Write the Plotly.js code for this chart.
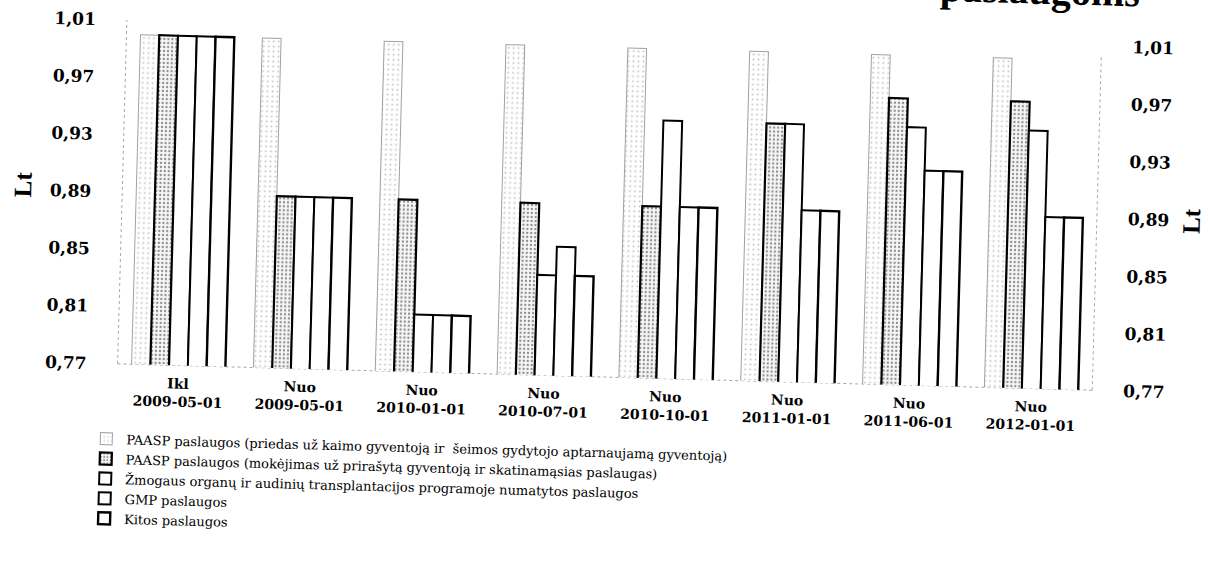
<!DOCTYPE html>
<html>
<head>
<meta charset="utf-8">
<script src="https://cdn.plot.ly/plotly-3.0.1.min.js"></script>
<style>
  html, body { margin: 0; padding: 0; background: #fff; overflow: hidden; }
  #wrap { width: 1208px; height: 562px; transform: rotate(1.55deg); transform-origin: 604px 281px; }
  #plot { width: 1208px; height: 562px; }
  #plot svg { overflow: visible !important; }
</style>
</head>
<body>
<div id="wrap"><div id="plot"></div></div>
<script>
// ---- data ----
const categories = [
  "Ikl<br>2009-05-01", "Nuo<br>2009-05-01", "Nuo<br>2010-01-01", "Nuo<br>2010-07-01",
  "Nuo<br>2010-10-01", "Nuo<br>2011-01-01", "Nuo<br>2011-06-01", "Nuo<br>2012-01-01"
];
const seriesNames = [
  "PAASP paslaugos (priedas už kaimo gyventoją ir  šeimos gydytojo aptarnaujamą gyventoją)",
  "PAASP paslaugos (mokėjimas už prirašytą gyventoją ir skatinamąsias paslaugas)",
  "Žmogaus organų ir audinių transplantacijos programoje numatytos paslaugos",
  "GMP paslaugos",
  "Kitos paslaugos"
];
const paaspPriedas    = [1.00, 1.00, 1.00, 1.00, 1.00, 1.00, 1.00, 1.00];
const paaspMokejimas  = [1.00, 0.89, 0.89, 0.89, 0.89, 0.95, 0.97, 0.97];
const transplantacija = [1.00, 0.89, 0.81, 0.84, 0.95, 0.95, 0.95, 0.95];
const gmp             = [1.00, 0.89, 0.81, 0.86, 0.89, 0.89, 0.92, 0.89];
const kitos           = [1.00, 0.89, 0.81, 0.84, 0.89, 0.89, 0.92, 0.89];
const yTickStart = 0.77, yTickStep = 0.04, yMax = 1.01;
const titleText = "paslaugoms";
const unitText = "Lt";

// ---- styles ----
const styles = [
  {color: "#ffffff", line: {color: "#a0a0a0", width: 1}, pattern: {shape: ".", fgcolor: "#c4c4c4", bgcolor: "#ffffff", size: 5, solidity: 0.12}},
  {color: "#ffffff", line: {color: "#000000", width: 2.2}, pattern: {shape: ".", fgcolor: "#8a8a8a", bgcolor: "#f6f6f6", size: 4, solidity: 0.25}},
  {color: "#ffffff", line: {color: "#000000", width: 2}},
  {color: "#ffffff", line: {color: "#000000", width: 2}},
  {color: "#ffffff", line: {color: "#000000", width: 2.4}}
];
const allSeries = [paaspPriedas, paaspMokejimas, transplantacija, gmp, kitos];

const traces = allSeries.map((vals, i) => ({
  type: "bar",
  name: seriesNames[i],
  x: categories,
  y: vals,
  marker: styles[i],
  hoverinfo: "skip"
}));
// invisible helper so the right-hand axis is drawn
traces.push({
  type: "scatter", mode: "markers", x: categories, y: paaspPriedas, yaxis: "y2",
  marker: {opacity: 0}, showlegend: false, hoverinfo: "skip"
});

const tickFont = {family: "DejaVu Serif", size: 17, color: "#000", weight: "bold"};
const yCommon = {
  range: [yTickStart, yMax],
  tick0: yTickStart, dtick: yTickStep,
  tickformat: ".2f",
  showgrid: false, zeroline: false, showline: false,
  ticks: "", ticklabelstandoff: 30,
  tickfont: tickFont
};
const unitFont = {family: "Liberation Serif", size: 25, color: "#000", weight: "bold"};
const borderLine = {color: "#a8a8a8", width: 1, dash: "dot"};

const layout = {
  width: 1208, height: 562,
  margin: {l: 120, r: 113, t: 33, b: 185},
  paper_bgcolor: "#ffffff", plot_bgcolor: "#ffffff",
  separators: ",.",
  barmode: "group", bargap: 0.23, bargroupgap: 0,
  showlegend: true,
  legend: {
    x: -0.03, xanchor: "left", y: -0.175, yanchor: "top",
    orientation: "v", traceorder: "normal",
    font: {family: "DejaVu Serif", size: 13, color: "#000"},
    bgcolor: "rgba(0,0,0,0)"
  },
  xaxis: {
    type: "category",
    showgrid: false, zeroline: false, showline: false, ticks: "",
    ticklabelstandoff: 8,
    tickfont: {family: "DejaVu Serif", size: 14, color: "#000", weight: "bold"}
  },
  yaxis: Object.assign({side: "left"}, yCommon),
  yaxis2: Object.assign({side: "right", overlaying: "y"}, yCommon),
  shapes: [
    {type: "line", xref: "paper", yref: "paper", x0: 0, x1: 0, y0: 0, y1: 1, line: borderLine, layer: "below"},
    {type: "line", xref: "paper", yref: "paper", x0: 1, x1: 1, y0: 0, y1: 0.97, line: borderLine, layer: "below"},
    {type: "line", xref: "paper", yref: "paper", x0: 0, x1: 1, y0: 0, y1: 0, line: borderLine, layer: "below"}
  ],
  annotations: [
    {text: titleText, xref: "paper", yref: "paper", x: 0.935, y: 1.087, xanchor: "center", yanchor: "bottom",
     showarrow: false, font: {family: "Liberation Serif", size: 40, color: "#000", weight: "bold"}},
    {text: unitText, xref: "paper", yref: "paper", x: (20 - 120) / 975, y: (377 - 200) / 344,
     xanchor: "center", yanchor: "middle", textangle: -90, showarrow: false, font: unitFont},
    {text: unitText, xref: "paper", yref: "paper", x: (1189 - 120) / 975, y: (377 - 205) / 344,
     xanchor: "center", yanchor: "middle", textangle: -90, showarrow: false, font: unitFont}
  ]
};

Plotly.newPlot("plot", traces, layout, {staticPlot: true, displayModeBar: false});
</script>
</body>
</html>
